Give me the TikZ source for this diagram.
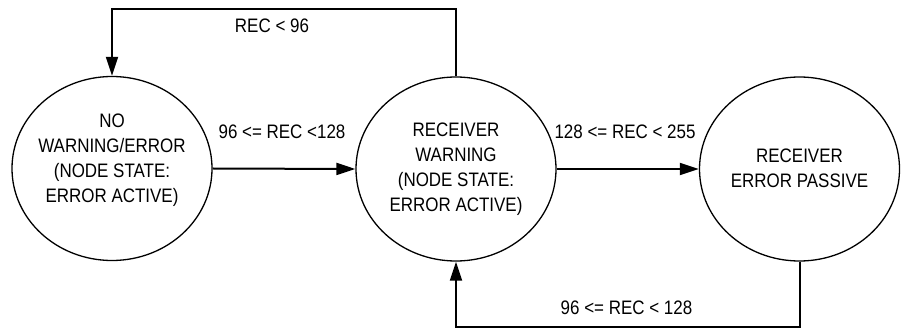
\documentclass[tikz,border=0pt]{standalone}
\usepackage{fontspec}
\setmainfont{Liberation Sans}[FakeStretch=0.87]
\usetikzlibrary{shapes.geometric,arrows.meta}
\begin{document}
\begin{tikzpicture}[x=1pt,y=-1pt,
  state/.style={draw, line width=1.3pt, ellipse, minimum width=200pt,
                minimum height=184pt, inner sep=0pt},
  txt/.style={font=\fontsize{19.5}{25}\selectfont, align=center, inner sep=0pt},
  link/.style={line width=2pt, -{Triangle[length=19pt,width=12pt]}},
  lbl/.style={font=\fontsize{19.5}{25}\selectfont, inner sep=0pt}]
\useasboundingbox (0,0) rectangle (901,328);

% receiver error states
\node[state] (ok)   at (112,168.5) {};
\node[state] (warn) at (456,169) {};
\node[state] (pass) at (799.5,169) {};

\node[txt] (okt)   at (112,160) {NO\\WARNING/ERROR\\(NODE STATE:\\ERROR ACTIVE)};
\node[txt] (warnt) at (456,169.5) {RECEIVER\\WARNING\\(NODE STATE:\\ERROR ACTIVE)};
\node[txt] (passt) at (799.5,168.5) {RECEIVER\\ERROR PASSIVE};

% transitions
\draw[link] (ok.east) -- (warn.west);
\draw[link] (warn.east) -- (pass.west);
\draw[link] (warn.north) -- ++(0,-67) -| (ok.north);
\draw[link] (pass.south) -- ++(0,65) -| (warn.south);

% transition conditions
\node[lbl] (l1) at (272,26) {REC < 96};
\node[lbl] (l2) at (282,132) {96 <= REC <128};
\node[lbl] (l3) at (625,132) {128 <= REC < 255};
\node[lbl] (l4) at (626.5,307.5) {96 <= REC < 128};
\end{tikzpicture}
\end{document}
